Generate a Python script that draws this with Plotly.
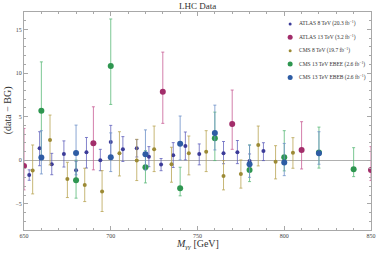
import plotly.graph_objects as go

# ---------------- data ----------------
atlas8_x = [653, 659, 666, 673, 680, 686, 694, 700, 707, 715, 722, 729, 736, 743, 751, 765, 773, 780, 788]
atlas8_y = [-1.7, 1.37, -0.46, 0.72, -1.15, 0.91, 0.0, 2.1, 1.26, 1.37, 0.41, -0.5, 0.57, 1.64, 0.72, 0.8, 0.91, -0.08, 1.06]
atlas8_up = [0.6, 1.9, 1.25, 1.5, 1.0, 1.7, 1.25, 1.9, 1.45, 1.0, 1.15, 0.7, 1.45, 1.6, 1.15, 1.35, 1.35, 0.8, 0.95]
atlas8_dn = [0.6, 2.0, 1.2, 1.5, 1.0, 1.8, 1.2, 1.9, 1.4, 1.0, 1.15, 0.7, 1.4, 1.6, 1.25, 1.2, 1.3, 0.8, 1.1]

atlas13_x = [650, 690, 730, 770, 810, 850]
atlas13_y = [-0.65, 1.94, 7.85, 4.15, 1.18, -1.11]
atlas13_up = [4.3, 4.19, 4.55, 3.9, 3.24, 2.67]
atlas13_dn = [2.75, 3.04, 3.62, 2.9, 2.18, 1.22]

cms8_x = [655, 665, 675, 685, 695, 705, 715, 725, 735, 745, 755, 765, 775, 785, 795, 805]
cms8_y = [-1.19, 2.32, -2.14, -2.83, -3.59, 0.8, -0.04, 1.26, -0.46, 0.8, 0.98, -1.8, -1.57, 1.75, -0.16, 0.87]
cms8_up = [2.94, 2.86, 1.91, 1.91, 2.4, 2.47, 2.44, 2.66, 1.95, 1.98, 2.41, 1.76, 1.6, 2.17, 1.83, 1.72]
cms8_dn = [2.67, 2.86, 2.14, 1.91, 2.29, 2.6, 2.29, 2.56, 2.06, 2.48, 2.28, 1.6, 1.63, 2.4, 1.98, 1.79]

ebee_x = [660, 680, 700, 720, 740, 760, 780, 800, 820, 840]
ebee_y = [5.68, -2.29, 10.8, -0.8, -3.2, 2.52, -1.11, 0.34, 0.9, -1.03]
ebee_up = [5.6, 2.3, 5.4, 1.9, 2.4, 3.0, 2.86, 3.05, 2.9, 2.47]
ebee_dn = [5.6, 2.06, 4.4, 1.8, 0.88, 2.56, 1.34, 1.56, 1.8, 0.85]

ebeb_x = [660, 680, 700, 720, 740, 760, 780, 800, 820]
ebeb_y = [0.3, 0.83, 0.34, 0.68, 1.9, 3.12, -0.46, -0.27, 0.8]
ebeb_up = [3.09, 3.2, 2.8, 2.8, 3.17, 3.2, 2.2, 2.2, 2.47]
ebeb_dn = [1.87, 2.5, 1.64, 1.8, 1.87, 1.94, 1.5, 1.5, 1.26]

series_names = [
    "ATLAS 8 TeV (20.3 fb<sup>−1</sup>)",
    "ATLAS 13 TeV (3.2 fb<sup>−1</sup>)",
    "CMS 8 TeV (19.7 fb<sup>−1</sup>)",
    "CMS 13 TeV EBEE (2.6 fb<sup>−1</sup>)",
    "CMS 13 TeV EBEB (2.6 fb<sup>−1</sup>)",
]

x_ticks = [650, 700, 750, 800, 850]
y_ticks = [-5, 0, 5, 10, 15]

# ---------------- styles ----------------
SERIF = "Liberation Serif, Times New Roman, serif"
series = [
    (atlas8_x, atlas8_y, atlas8_up, atlas8_dn, "#3b3b98", "rgba(90,90,185,0.75)", 4),
    (atlas13_x, atlas13_y, atlas13_up, atlas13_dn, "#a22d6a", "rgba(200,95,150,0.8)", 6),
    (cms8_x, cms8_y, cms8_up, cms8_dn, "#9c8a35", "rgba(185,165,85,0.8)", 4),
    (ebee_x, ebee_y, ebee_up, ebee_dn, "#2e9650", "rgba(90,185,120,0.8)", 6),
    (ebeb_x, ebeb_y, ebeb_up, ebeb_dn, "#2e5ca4", "rgba(110,145,200,0.8)", 6),
]

fig = go.Figure()
for (xs, ys, up, dn, mc, ec, ms), name in zip(series, series_names):
    fig.add_trace(go.Scatter(
        x=xs, y=ys, mode="markers", name=name, showlegend=False,
        marker=dict(color=mc, size=ms, line=dict(width=0)),
        error_y=dict(type="data", symmetric=False, array=up, arrayminus=dn,
                     color=ec, thickness=1, width=1.5),
    ))

# manual legend (compact rows like the reference)
leg_rows = [0.945, 0.884, 0.822, 0.761, 0.700]
for (xs, ys, up, dn, mc, ec, ms), name, yy in zip(series, series_names, leg_rows):
    r = ms / 2.0 - 0.5
    fig.add_shape(type="circle", xref="paper", yref="paper",
                  xsizemode="pixel", ysizemode="pixel",
                  xanchor=0.767, yanchor=yy, x0=-r, x1=r, y0=-r, y1=r,
                  fillcolor=mc, line=dict(width=0))
    fig.add_annotation(x=0.788, y=yy, xref="paper", yref="paper",
                       xanchor="left", yanchor="middle", showarrow=False,
                       text=name, font=dict(family=SERIF, size=5.5, color="#333"))

axis_common = dict(
    showgrid=False, ticks="inside", mirror="allticks", showline=True,
    linecolor="#a8a8a8", linewidth=1, tickcolor="#a8a8a8", ticklen=4,
    tickfont=dict(family=SERIF, size=6, color="#444"),
)
fig.update_xaxes(range=[650, 850], tickvals=x_ticks, zeroline=False,
                 minor=dict(dtick=10, ticks="inside", ticklen=2, tickcolor="#a8a8a8"),
                 **axis_common)
fig.update_yaxes(range=[-8, 17], tickvals=y_ticks, zeroline=True,
                 zerolinecolor="#b0b0b0", zerolinewidth=1,
                 minor=dict(dtick=1, ticks="inside", ticklen=2, tickcolor="#a8a8a8"),
                 **axis_common)

fig.add_annotation(text="LHC Data", xref="paper", yref="paper", x=0.5, y=(230 - 6) / 218,
                   xanchor="center", yanchor="middle", showarrow=False,
                   font=dict(family=SERIF, size=9, color="#333"))
fig.add_annotation(text="<i>M</i><sub><i>γγ</i></sub> [GeV]", xref="paper", yref="paper",
                   x=0.5, y=(230 - 245) / 218, xanchor="center", yanchor="middle", showarrow=False,
                   font=dict(family=SERIF, size=10, color="#333"))
fig.add_annotation(text="(data − BG)", xref="paper", yref="paper",
                   x=(8 - 24) / 352, y=0.55, xanchor="center", yanchor="middle", showarrow=False,
                   textangle=-90, font=dict(family=SERIF, size=10, color="#333"))

fig.update_layout(
    width=382, height=256,
    margin=dict(l=24, r=6, t=12, b=26),
    paper_bgcolor="white", plot_bgcolor="white",
    showlegend=False,
)
fig.write_html("out.html", config={"displayModeBar": False},
               post_script="document.body.style.margin='0';document.body.style.padding='0';")
